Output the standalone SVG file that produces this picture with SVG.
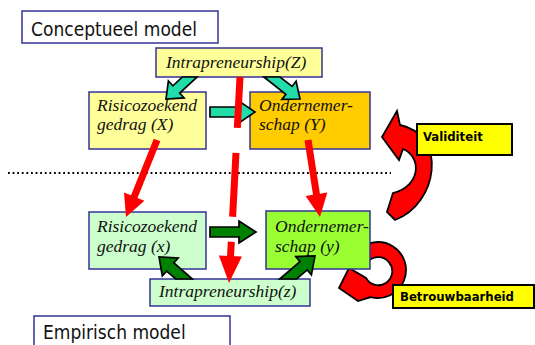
<svg xmlns="http://www.w3.org/2000/svg" width="535" height="345" viewBox="0 0 535 345">
  <style>
    .frame { fill: #ffffff; stroke: #333399; stroke-width: 1.5; }
    .node { stroke: #333399; stroke-width: 1.5; }
    .pale { fill: #ffff99; }
    .gold { fill: #ffcc00; }
    .mint { fill: #ccffcc; }
    .lime { fill: #99ff33; }
    .title { font-family: "DejaVu Sans Condensed", "DejaVu Sans", sans-serif; font-stretch: condensed; font-size: 19px; fill: #111; }
    .var { font-family: "Liberation Serif", "Times New Roman", serif; font-style: italic; font-size: 17.5px; fill: #111; }
    .tag { fill: #ffff00; stroke: #000; stroke-width: 2; }
    .tagtext { font-family: "DejaVu Sans Condensed", "DejaVu Sans", sans-serif; font-stretch: condensed; font-weight: bold; font-size: 13px; fill: #000; }
    .loop { fill: #ff0000; stroke: #000; stroke-width: 1.8; stroke-linejoin: miter; }
    .red { fill: #ff0000; }
    .teal { fill: #22ddaa; stroke: #000; stroke-width: 1.7; stroke-linejoin: miter; }
    .green { fill: #008000; stroke: #000; stroke-width: 1.7; stroke-linejoin: miter; }
  </style>

  <rect width="535" height="345" fill="#ffffff"/>

  <!-- section titles -->
  <g id="conceptueel">
    <rect class="frame" x="22" y="11" width="196" height="32"/>
    <text class="title" x="31" y="36">Conceptueel model</text>
  </g>
  <g id="empirisch">
    <rect class="frame" x="34" y="316" width="196" height="40"/>
    <text class="title" x="43" y="339">Empirisch model</text>
  </g>

  <!-- divider between the two levels -->
  <line x1="8" y1="173" x2="391" y2="173" stroke="#000" stroke-width="1.8" stroke-dasharray="1.8 2.8"/>

  <!-- reliability loop sits behind the y box -->
  <g id="betrouwbaarheid">
    <path class="loop" d="M 356.55,252 A 28 28 0 1 1 370.75,297.05 L 358,301 L 339,288 L 349,268 L 366,278 A 14 14 0 1 0 368.04,261.64 Z"/>
    <rect class="tag" x="393" y="285" width="141" height="23"/>
    <text class="tagtext" x="400" y="301">Betrouwbaarheid</text>
  </g>

  <!-- conceptual nodes -->
  <g id="Z">
    <rect class="node pale" x="156" y="48" width="166" height="29"/>
    <text class="var" x="166" y="68">Intrapreneurship(Z)</text>
  </g>
  <g id="X">
    <rect class="node pale" x="89" y="92" width="117" height="57"/>
    <text class="var" x="97" y="111">Risicozoekend</text>
    <text class="var" x="97" y="130">gedrag (X)</text>
  </g>
  <g id="Y">
    <rect class="node gold" x="250" y="92" width="120" height="57"/>
    <text class="var" x="259" y="111">Ondernemer-</text>
    <text class="var" x="259" y="130">schap (Y)</text>
  </g>

  <!-- empirical nodes -->
  <g id="x">
    <rect class="node mint" x="89" y="212" width="117" height="57"/>
    <text class="var" x="97" y="232">Risicozoekend</text>
    <text class="var" x="97" y="252">gedrag (x)</text>
  </g>
  <g id="y">
    <rect class="node lime" x="266" y="211" width="104" height="58"/>
    <text class="var" x="275" y="232">Ondernemer-</text>
    <text class="var" x="275" y="252">schap (y)</text>
  </g>
  <g id="z">
    <rect class="node mint" x="150" y="279" width="160" height="27"/>
    <text class="var" x="159" y="297">Intrapreneurship(z)</text>
  </g>

  <!-- connectors -->
  <g id="connectors">
    <!-- Z -> X, Z -> Y, X -> Y -->
    <polygon class="teal" points="182.3,77 197,77 179.7,93.1 184.1,97.9 166,99 168.4,81 172.9,85.8"/>
    <polygon class="teal" points="263.9,77 280.1,77 292.1,86.4 296.1,81.3 300,99 281.9,99.4 285.9,94.3"/>
    <polygon class="teal" points="210,107 239,107 239,101 255,112 239,123 239,117 210,117"/>

    <!-- operationalisation: conceptual -> empirical -->
    <polygon class="red" points="153.8,138.7 131,195.3 124,192.5 126,217 144.4,200.7 137.5,197.9 160.3,141.3"/>
    <polygon class="red" points="304.5,140.5 313,194.8 305.6,196 320,217 327.3,192.6 319.9,193.7 311.5,139.5"/>
    <line x1="240" y1="77" x2="230.5" y2="257" stroke="#ff0000" stroke-width="7" stroke-dasharray="51 25 64 25 20"/>
    <polygon class="red" points="218.9,255.4 241.9,256.6 229,283"/>

    <!-- x -> y, z -> x, z -> y -->
    <polygon class="green" points="210,227 239,227 239,221 256,232 239,243 239,237 210,237"/>
    <polygon class="green" points="192.3,279 175.7,279 166.6,271.1 162.3,275.9 159,257 178.2,257.9 173.9,262.8"/>
    <polygon class="green" points="279.7,279 296.6,279 307.2,269.9 311.4,274.9 315,256 295.8,256.6 300,261.6"/>
  </g>

  <!-- validity loop -->
  <g id="validiteit">
    <path class="loop" d="M 395,220 C 438,204 448,135 400,125 L 397,111 L 382,137 L 399,160 L 403,149 C 422,157 421,186 393,193 L 387,212 Z"/>
    <rect class="tag" x="417" y="124" width="95" height="31"/>
    <text class="tagtext" x="423" y="141">Validiteit</text>
  </g>
</svg>
